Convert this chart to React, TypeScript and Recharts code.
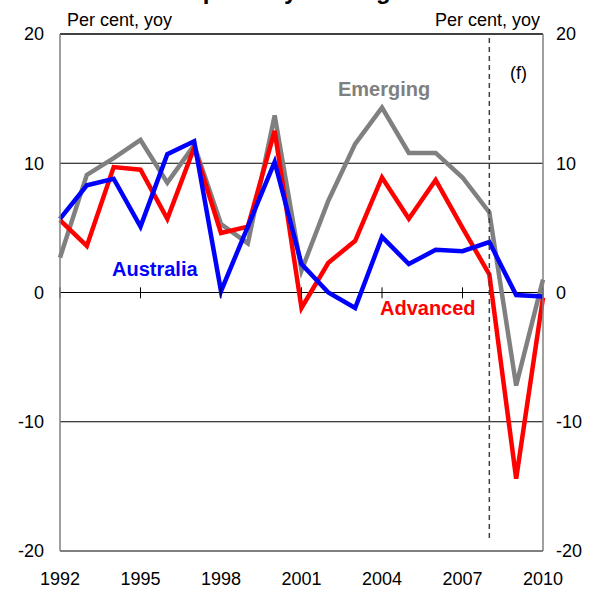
import React from 'react'
import {
  ComposedChart, Line, XAxis, YAxis, ReferenceLine,
} from 'recharts'

const years = [1992, 1993, 1994, 1995, 1996, 1997, 1998, 1999, 2000, 2001, 2002, 2003, 2004, 2005, 2006, 2007, 2008, 2009, 2010]
const australia = [5.7, 8.3, 8.8, 5.1, 10.7, 11.7, 0.1, 5.1, 10.1, 2.2, 0.0, -1.2, 4.3, 2.2, 3.3, 3.2, 3.9, -0.2, -0.3]
const advanced = [5.6, 3.6, 9.7, 9.5, 5.7, 11.2, 4.6, 5.1, 12.5, -1.2, 2.3, 4.0, 8.9, 5.7, 8.7, 5.0, 1.4, -14.4, -0.4]
const emerging = [2.7, 9.1, 10.4, 11.8, 8.5, 11.4, 5.3, 3.8, 13.7, 1.7, 7.1, 11.5, 14.3, 10.8, 10.8, 8.9, 6.2, -7.2, 1.0]

const xTicks = [1992, 1995, 1998, 2001, 2004, 2007, 2010]
const yTicks = [-20, -10, 0, 10, 20]
const gridValues = [-10, 0, 10]
const forecastYear = 2008

const data = years.map((year, i) => ({
  year,
  australia: australia[i],
  advanced: advanced[i],
  emerging: emerging[i],
}))

const FONT = "Arial, 'Liberation Sans', sans-serif"
const tickStyle = { fontSize: 18, fill: '#000', fontFamily: FONT }

function Note({ left, right, top, size = 18, bold, color = '#000', children }: any) {
  return (
    <div style={{
      position: 'absolute', left, right, top: top - 11, height: 22, lineHeight: '22px',
      fontSize: size, fontWeight: bold ? 700 : 400, color, fontFamily: FONT, whiteSpace: 'nowrap',
      textAlign: right != null ? 'right' : 'left',
    }}>
      {children}
    </div>
  )
}

export default function App() {
  return (
    <div style={{ position: 'absolute', left: 0, top: 0, width: 592, height: 590, overflow: 'hidden', background: 'white' }}>
      {/* title, mostly cut off by the frame */}
      <div style={{
        position: 'absolute', left: 56, top: -21, fontSize: 24, lineHeight: '24px', fontWeight: 700,
        fontFamily: FONT, whiteSpace: 'nowrap',
      }}>
        Growth in Imports by Trading Partners
      </div>

      <ComposedChart width={592} height={590} data={data} margin={{ top: 34, right: 0, left: 20, bottom: 0 }}>
        <XAxis
          dataKey="year"
          type="number"
          domain={[1992, 2010]}
          ticks={xTicks}
          interval={0}
          axisLine={false}
          tickLine={false}
          tickSize={0}
          tickMargin={21}
          height={39}
          tick={tickStyle}
        />
        <YAxis
          yAxisId="left"
          domain={[-20, 20]}
          ticks={yTicks}
          interval={0}
          axisLine={false}
          tickLine={false}
          tickSize={0}
          tickMargin={16}
          width={40}
          tick={tickStyle}
        />
        <YAxis
          yAxisId="right"
          orientation="right"
          domain={[-20, 20]}
          ticks={yTicks}
          interval={0}
          axisLine={false}
          tickLine={false}
          tickSize={0}
          tickMargin={13}
          width={49}
          tick={tickStyle}
        />

        {gridValues.map(v => (
          <ReferenceLine key={v} yAxisId="left" y={v} stroke="#000" strokeWidth={1} />
        ))}

        <Line yAxisId="left" type="linear" dataKey="emerging" stroke="#808080" strokeWidth={4.5} dot={false} isAnimationActive={false} />
        <Line yAxisId="left" type="linear" dataKey="advanced" stroke="#FF0000" strokeWidth={4.5} dot={false} isAnimationActive={false} />
        <Line yAxisId="left" type="linear" dataKey="australia" stroke="#0000FF" strokeWidth={4.5} dot={false} isAnimationActive={false} />
        {/* same series on the right scale, invisible, so the right axis gets drawn */}
        <Line yAxisId="right" type="linear" dataKey="australia" stroke="none" strokeWidth={0} dot={false} activeDot={false} legendType="none" isAnimationActive={false} />

        {/* ticks on the zero line */}
        {xTicks.map(t => (
          <ReferenceLine key={'t' + t} yAxisId="left" segment={[{ x: t, y: 0.4 }, { x: t, y: -0.45 }]} stroke="#000" strokeWidth={1} />
        ))}

        {/* forecast divider */}
        <ReferenceLine
          yAxisId="left"
          segment={[{ x: forecastYear, y: 19.7 }, { x: forecastYear, y: -19.1 }]}
          stroke="#404040"
          strokeWidth={1.5}
          strokeDasharray="5 4"
        />

        {/* frame */}
        <ReferenceLine yAxisId="right" y={20} stroke="#000" strokeWidth={1.5} />
        <ReferenceLine yAxisId="right" y={-20} stroke="#808080" strokeWidth={2} />
        <ReferenceLine yAxisId="right" x={1992} stroke="#808080" strokeWidth={1.5} />
        <ReferenceLine yAxisId="right" x={2010} stroke="#808080" strokeWidth={1.5} />
      </ComposedChart>

      <Note left={67} top={20}>Per cent, yoy</Note>
      <Note right={52} top={20}>Per cent, yoy</Note>
      <Note left={510} top={73}>(f)</Note>
      <Note left={338} top={89} size={20} bold color="#808080">Emerging</Note>
      <Note left={112} top={269} size={20} bold color="#0000FF">Australia</Note>
      <Note left={380} top={308} size={20} bold color="#FF0000">Advanced</Note>
    </div>
  )
}
